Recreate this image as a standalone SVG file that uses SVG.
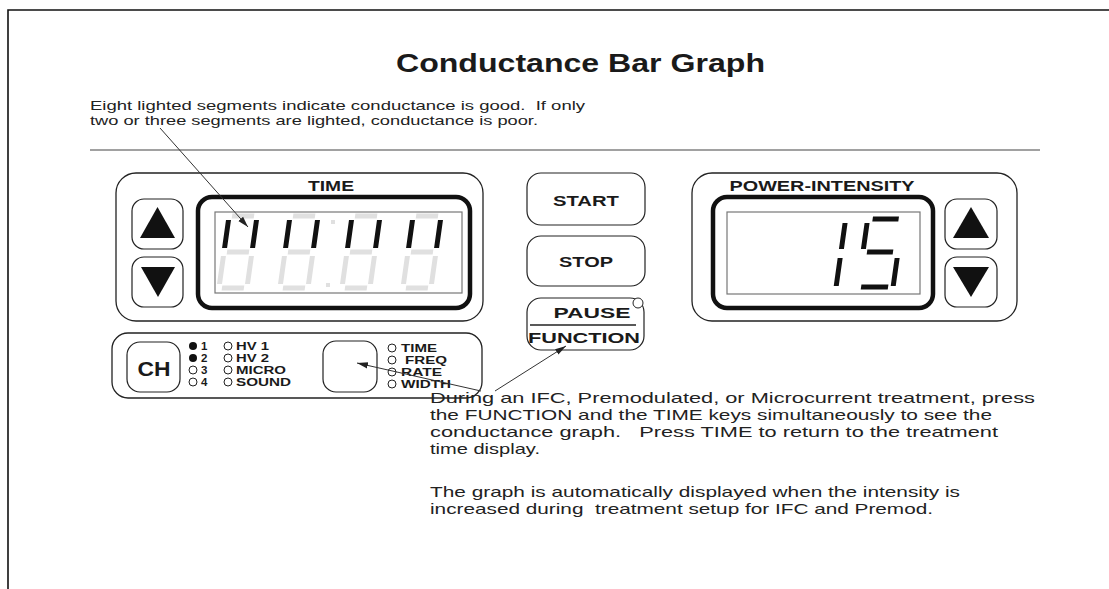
<svg xmlns="http://www.w3.org/2000/svg" width="1109" height="589" viewBox="0 0 1109 589">
<style>
.t{font-family:"Liberation Sans",Arial,sans-serif;fill:#222}
.b{font-family:"Liberation Sans",Arial,sans-serif;font-weight:bold;fill:#1a1a1a}
.pan{fill:#fff;stroke:#222;stroke-width:1.3}
.btn{fill:#fff;stroke:#222;stroke-width:1.2}
.thick{fill:#fff;stroke:#111;stroke-width:4.5}
.inner{fill:none;stroke:#777;stroke-width:1.2}
.on{stroke:#111;stroke-width:5;fill:none}
.off{stroke:#e0e0e0;stroke-width:5;fill:none}
.dot{fill:#fff;stroke:#222;stroke-width:1}
.con{stroke:#333;stroke-width:1;fill:none}
</style>
<defs>
<marker id="ah" markerWidth="12" markerHeight="8" refX="11" refY="4" orient="auto" markerUnits="userSpaceOnUse">
<path d="M0,0.8 L11,4 L0,7.2 Z" fill="#222"/>
</marker>
</defs>
<rect width="1109" height="589" fill="#fff"/>
<path d="M8,589 V10 H1109" fill="none" stroke="#111" stroke-width="1.6"/>

<g id="title"><text class="b" x="396" y="72" font-size="25" textLength="369" lengthAdjust="spacingAndGlyphs">Conductance Bar Graph</text></g>
<g id="note-top">
<text class="t" x="90" y="109.5" font-size="13.4" textLength="495" lengthAdjust="spacingAndGlyphs" xml:space="preserve">Eight lighted segments indicate conductance is good.  If only</text>
<text class="t" x="90" y="124.6" font-size="13.4" textLength="448" lengthAdjust="spacingAndGlyphs">two or three segments are lighted, conductance is poor.</text>
</g>
<line x1="90" y1="150" x2="1040" y2="150" stroke="#444" stroke-width="1.2"/>

<g id="time-panel">
<rect class="pan" x="116" y="173" width="367" height="148" rx="20"/>
<text class="b" x="331" y="191" font-size="14" text-anchor="middle" textLength="46" lengthAdjust="spacingAndGlyphs">TIME</text>
<rect class="btn" x="132" y="199" width="51" height="50" rx="12"/>
<path d="M157.5,207 L175,238 L140,238 Z" fill="#111"/>
<rect class="btn" x="132" y="257" width="51" height="50" rx="12"/>
<path d="M141,267 L175,267 L158,297 Z" fill="#111"/>
<rect class="thick" x="198" y="197" width="272" height="111" rx="14"/>
<rect class="inner" x="215" y="212" width="247" height="81"/>
<g transform="translate(224,252) skewX(-8)">
<path class="off" d="M3,-36H25M3,0H25M3,36H25M0,4V32M28,4V32"/><path class="on" d="M0,-32V-4M28,-32V-4"/></g>
<g transform="translate(285,252) skewX(-8)">
<path class="off" d="M3,-36H25M3,0H25M3,36H25M0,4V32M28,4V32"/><path class="on" d="M0,-32V-4M28,-32V-4"/></g>
<g transform="translate(347,252) skewX(-8)">
<path class="off" d="M3,-36H25M3,0H25M3,36H25M0,4V32M28,4V32"/><path class="on" d="M0,-32V-4M28,-32V-4"/></g>
<g transform="translate(408,252) skewX(-8)">
<path class="off" d="M3,-36H25M3,0H25M3,36H25M0,4V32M28,4V32"/><path class="on" d="M0,-32V-4M28,-32V-4"/></g>
<rect x="331" y="220" width="4" height="4" fill="#e0e0e0"/>
<rect x="326" y="283" width="4" height="4" fill="#e0e0e0"/>
</g>

<g id="start-btn">
<rect class="btn" x="527" y="173" width="118" height="52" rx="14"/>
<text class="b" x="586" y="206" font-size="15" text-anchor="middle" textLength="66" lengthAdjust="spacingAndGlyphs">START</text>
</g>
<g id="stop-btn">
<rect class="btn" x="527" y="236" width="118" height="50" rx="14"/>
<text class="b" x="586" y="267" font-size="15" text-anchor="middle" textLength="54" lengthAdjust="spacingAndGlyphs">STOP</text>
</g>
<g id="pause-function-btn">
<rect class="btn" x="527" y="298" width="117" height="52" rx="14"/>
<text class="b" x="592" y="318" font-size="15" text-anchor="middle" textLength="77" lengthAdjust="spacingAndGlyphs">PAUSE</text>
<line x1="530" y1="325" x2="636" y2="325" stroke="#222" stroke-width="1.3"/>
<text class="b" x="584" y="343" font-size="15.5" text-anchor="middle" textLength="112" lengthAdjust="spacingAndGlyphs">FUNCTION</text>
<circle class="dot" cx="638" cy="303" r="5"/>
</g>

<g id="power-panel">
<rect class="pan" x="692" y="173" width="325" height="148" rx="20"/>
<text class="b" x="822" y="191" font-size="14" text-anchor="middle" textLength="185" lengthAdjust="spacingAndGlyphs">POWER-INTENSITY</text>
<rect class="thick" x="713" y="197" width="220" height="111" rx="14"/>
<rect class="inner" x="727" y="212" width="193" height="82"/>
<g transform="translate(806,252) skewX(-8)"><path class="on" d="M35,-29V-3M35,6V34"/></g>
<g transform="translate(863,252) skewX(-8)"><path class="on" d="M5,-33H31M0,-29V-3M4,0H30M35,6V34M3,35H30"/></g>
<rect class="btn" x="945" y="199" width="52" height="50" rx="12"/>
<path d="M971,207 L989,238 L953,238 Z" fill="#111"/>
<rect class="btn" x="945" y="257" width="52" height="50" rx="12"/>
<path d="M953,267 L989,267 L971,297 Z" fill="#111"/>
</g>

<g id="channel-panel">
<rect class="pan" x="112" y="333" width="370" height="65" rx="16"/>
<rect class="btn" x="127" y="342" width="53" height="50" rx="13"/>
<text class="b" x="154" y="376" font-size="20" text-anchor="middle" textLength="33" lengthAdjust="spacingAndGlyphs">CH</text>
<circle cx="193" cy="346" r="4" fill="#111"/>
<circle cx="193" cy="358" r="4" fill="#111"/>
<circle class="dot" cx="193" cy="370" r="4"/>
<circle class="dot" cx="193" cy="382" r="4"/>
<text class="b" x="201" y="350" font-size="11.5">1</text>
<text class="b" x="201" y="362" font-size="11.5">2</text>
<text class="b" x="201" y="374" font-size="11.5">3</text>
<text class="b" x="201" y="386" font-size="11.5">4</text>
<circle class="dot" cx="228" cy="346" r="4"/>
<circle class="dot" cx="228" cy="358" r="4"/>
<circle class="dot" cx="228" cy="370" r="4"/>
<circle class="dot" cx="228" cy="382" r="4"/>
<text class="b" x="236" y="350" font-size="11.5" textLength="33" lengthAdjust="spacingAndGlyphs">HV 1</text>
<text class="b" x="236" y="362" font-size="11.5" textLength="33" lengthAdjust="spacingAndGlyphs">HV 2</text>
<text class="b" x="236" y="374" font-size="11.5" textLength="50" lengthAdjust="spacingAndGlyphs">MICRO</text>
<text class="b" x="236" y="386" font-size="11.5" textLength="55" lengthAdjust="spacingAndGlyphs">SOUND</text>
<rect class="btn" x="323" y="341" width="54" height="51" rx="13"/>
<circle class="dot" cx="392" cy="348" r="4"/>
<circle class="dot" cx="392" cy="360" r="4"/>
<circle class="dot" cx="392" cy="372" r="4"/>
<circle class="dot" cx="392" cy="384" r="4"/>
<text class="b" x="401" y="352" font-size="11.5" textLength="36" lengthAdjust="spacingAndGlyphs">TIME</text>
<text class="b" x="405" y="364" font-size="11.5" textLength="42" lengthAdjust="spacingAndGlyphs">FREQ</text>
<text class="b" x="401" y="376" font-size="11.5" textLength="41" lengthAdjust="spacingAndGlyphs">RATE</text>
<text class="b" x="401" y="388" font-size="11.5" textLength="50" lengthAdjust="spacingAndGlyphs">WIDTH</text>
</g>

<g id="note-bottom">
<text class="t" x="430" y="403" font-size="15" textLength="605" lengthAdjust="spacingAndGlyphs">During an IFC, Premodulated, or Microcurrent treatment, press</text>
<text class="t" x="430" y="420" font-size="15" textLength="562" lengthAdjust="spacingAndGlyphs">the FUNCTION and the TIME keys simultaneously to see the</text>
<text class="t" x="430" y="437" font-size="15" textLength="568" lengthAdjust="spacingAndGlyphs" xml:space="preserve">conductance graph.   Press TIME to return to the treatment</text>
<text class="t" x="430" y="454" font-size="15" textLength="110" lengthAdjust="spacingAndGlyphs">time display.</text>
<text class="t" x="430" y="497" font-size="15" textLength="530" lengthAdjust="spacingAndGlyphs">The graph is automatically displayed when the intensity is</text>
<text class="t" x="430" y="514" font-size="15" textLength="503" lengthAdjust="spacingAndGlyphs" xml:space="preserve">increased during  treatment setup for IFC and Premod.</text>
</g>

<g id="connectors">
<line class="con" x1="160" y1="128" x2="248" y2="227" marker-end="url(#ah)"/>
<line class="con" x1="481" y1="391" x2="357" y2="363" marker-end="url(#ah)"/>
<line class="con" x1="495" y1="391" x2="566" y2="346" marker-end="url(#ah)"/>
</g>
</svg>
